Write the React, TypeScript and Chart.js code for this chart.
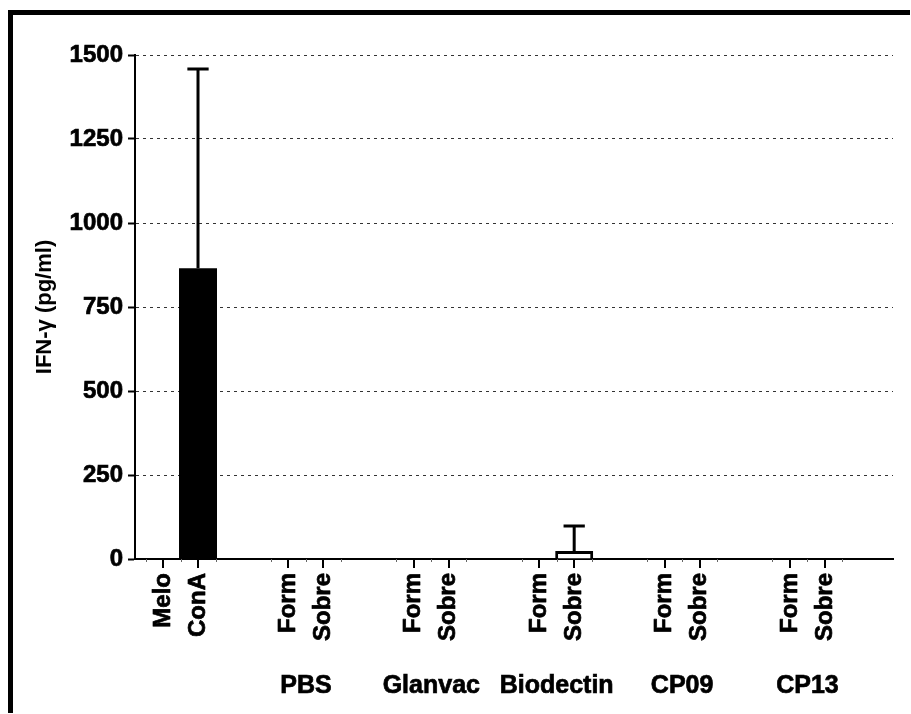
import React, { useEffect, useRef } from "react";
import { Chart, registerables } from "chart.js";

Chart.register(...registerables);

// ---- data ----
const groupLabels = ["", "PBS", "Glanvac", "Biodectin", "CP09", "CP13"];
const firstBarLabels = ["Melo", "Form", "Form", "Form", "Form", "Form"];
const secondBarLabels = ["ConA", "Sobre", "Sobre", "Sobre", "Sobre", "Sobre"];
const firstMeans = [0, 0, 0, 0, 0, 0];
const firstSD = [0, 0, 0, 0, 0, 0];
const secondMeans = [865, 0, 0, 24, 0, 0];
const secondSD = [593, 0, 0, 74, 0, 0];
const firstFill = ["#000000", "#ffffff", "#ffffff", "#ffffff", "#ffffff", "#ffffff"];
const secondFill = ["#000000", "#ffffff", "#ffffff", "#ffffff", "#ffffff", "#ffffff"];
const yTitle = "IFN-\u03B3 (pg/ml)";
const yMin = 0;
const yMax = 1500;
const yStep = 250;

const FONT = '"Liberation Sans", Arial, Helvetica, sans-serif';

const annotatePlugin = {
  id: "annotate",
  afterDatasetsDraw(chart: any) {
    const ctx = chart.ctx;
    const y = chart.scales.y;
    const series = [
      [firstMeans, firstSD],
      [secondMeans, secondSD],
    ];
    series.forEach(([means, sds], d) => {
      const meta = chart.getDatasetMeta(d);
      meta.data.forEach((bar: any, i: number) => {
        if (!sds[i]) return;
        const base = y.getPixelForValue(means[i]);
        const top = y.getPixelForValue(means[i] + sds[i]);
        const half = bar.width * 0.28;
        ctx.save();
        ctx.strokeStyle = "#000";
        ctx.lineWidth = 3;
        ctx.beginPath();
        ctx.moveTo(bar.x, base);
        ctx.lineTo(bar.x, top);
        ctx.moveTo(bar.x - half, top);
        ctx.lineTo(bar.x + half, top);
        ctx.stroke();
        ctx.restore();
      });
    });
  },
  afterDraw(chart: any) {
    const ctx = chart.ctx;
    const axisY = chart.chartArea.bottom;
    const m0 = chart.getDatasetMeta(0);
    const m1 = chart.getDatasetMeta(1);
    ctx.save();
    groupLabels.forEach((_, i) => {
      const b0 = m0.data[i];
      const b1 = m1.data[i];
      const h = (b1.x - b0.x) / 2;
      // minor ticks
      ctx.strokeStyle = "#666";
      ctx.lineWidth = 1;
      [b0.x - h, b0.x + h, b1.x + h].forEach((mx) => {
        ctx.beginPath();
        ctx.moveTo(Math.round(mx) + 0.5, axisY);
        ctx.lineTo(Math.round(mx) + 0.5, axisY + 3);
        ctx.stroke();
      });
      // major ticks + rotated labels
      [
        [b0, firstBarLabels[i]],
        [b1, secondBarLabels[i]],
      ].forEach(([b, lab]: any) => {
        ctx.strokeStyle = "#000";
        ctx.lineWidth = 2;
        ctx.beginPath();
        ctx.moveTo(Math.round(b.x), axisY);
        ctx.lineTo(Math.round(b.x), axisY + 9);
        ctx.stroke();
        ctx.save();
        ctx.translate(b.x, axisY + 14);
        ctx.rotate(-Math.PI / 2);
        ctx.font = `bold 24px ${FONT}`;
        ctx.fillStyle = "#000";
        ctx.strokeStyle = "#000";
        ctx.lineWidth = 0.7;
        ctx.lineJoin = "round";
        ctx.textAlign = "right";
        ctx.textBaseline = "middle";
        ctx.fillText(lab, 0, 0);
        ctx.strokeText(lab, 0, 0);
        ctx.restore();
      });
    });
    ctx.restore();
  },
};

const borderFor = (fills: string[]) => fills.map((c) => (c === "#000000" ? 0 : 3));

export default function App() {
  const ref = useRef<HTMLCanvasElement | null>(null);

  useEffect(() => {
    if (!ref.current) return;
    const chart = new Chart(ref.current, {
      type: "bar",
      data: {
        datasets: [
          {
            label: "first",
            data: firstMeans.map((v, i) => ({ x: i, y: v })),
            backgroundColor: firstFill,
            borderColor: "#000",
            borderWidth: borderFor(firstFill),
            inflateAmount: 0,
            categoryPercentage: 0.558,
            barPercentage: 1.086,
          },
          {
            label: "second",
            data: secondMeans.map((v, i) => ({ x: i, y: v })),
            backgroundColor: secondFill,
            borderColor: "#000",
            borderWidth: borderFor(secondFill),
            inflateAmount: 0,
            categoryPercentage: 0.558,
            barPercentage: 1.086,
          },
        ] as any,
      },
      options: {
        animation: false,
        responsive: true,
        maintainAspectRatio: false,
        layout: { padding: { top: 40, right: 17, left: 0, bottom: 0 } },
        plugins: {
          legend: { display: false },
          tooltip: { enabled: false },
        },
        scales: {
          x: {
            type: "linear",
            offset: false,
            min: -0.363,
            max: 5.682,
            afterBuildTicks: (s: any) => {
              s.ticks = groupLabels.map((_, i) => ({ value: i }));
            },
            afterFit: (s: any) => {
              s.height = 154;
              s.paddingLeft = 0;
              s.paddingRight = 0;
            },
            ticks: {
              autoSkip: false,
              maxRotation: 0,
              minRotation: 0,
              padding: 112,
              color: "#000",
              textStrokeColor: "#000",
              textStrokeWidth: 0.7,
              font: { family: FONT, size: 25, weight: "bold" },
              callback: (v: any) => groupLabels[Math.round(Number(v))] ?? "",
            },
            grid: { display: false, drawTicks: false, offset: false },
            border: { display: true, color: "#000", width: 2 },
          },
          y: {
            min: yMin,
            max: yMax,
            afterFit: (s: any) => {
              s.width = 122;
            },
            ticks: {
              stepSize: yStep,
              padding: 5,
              color: "#000",
              textStrokeColor: "#000",
              textStrokeWidth: 0.7,
              font: { family: FONT, size: 24, weight: "bold" },
              callback: (v: any) => String(v),
            },
            grid: {
              color: "#333",
              lineWidth: 1,
              tickLength: 7,
              tickWidth: 2,
              tickColor: "#000",
              tickBorderDash: [],
            },
            border: { display: true, color: "#000", width: 2, dash: [3, 4] },
            title: {
              display: true,
              text: yTitle,
              color: "#000",
              font: { family: FONT, size: 22, weight: "bold" },
              padding: { top: 19, bottom: 0 },
            },
          },
        },
      } as any,
      plugins: [annotatePlugin],
    });
    return () => chart.destroy();
  }, []);

  return (
    <div
      style={{
        position: "absolute",
        left: 8,
        top: 10,
        width: 902,
        height: 703,
        boxSizing: "border-box",
        borderLeft: "5px solid #000",
        borderTop: "5px solid #000",
        background: "#fff",
      }}
    >
      <div style={{ position: "relative", width: 897, height: 698 }}>
        <canvas ref={ref} />
      </div>
    </div>
  );
}
